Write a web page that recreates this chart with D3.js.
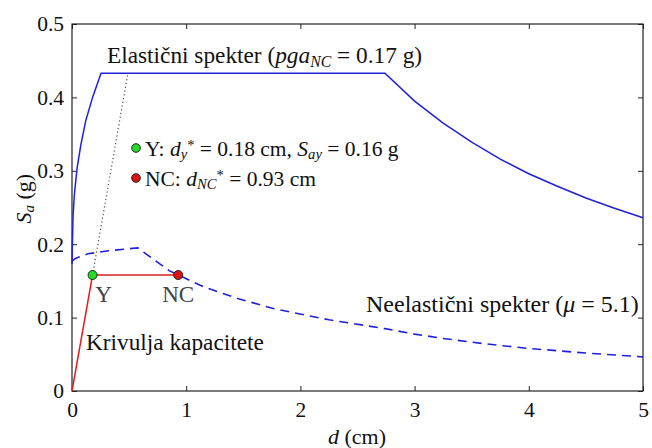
<!DOCTYPE html>
<html>
<head>
<meta charset="utf-8">
<script src="https://cdn.jsdelivr.net/npm/d3@7"></script>
</head>
<body style="margin:0">
<script>
const width = 652;
const height = 448;
const serif = "'Liberation Serif'";

// elastic spectrum (ADRS)
const elasticD = [0, 0.002, 0.009, 0.022, 0.044, 0.077, 0.12, 0.18, 0.254, 2.74, 3.0, 3.25, 3.5, 3.75, 4.0, 4.25, 4.5, 4.75, 5.0];
const elasticSa = [0.173, 0.19, 0.238, 0.27, 0.303, 0.335, 0.368, 0.40, 0.433, 0.433, 0.395, 0.365, 0.339, 0.316, 0.296, 0.279, 0.263, 0.249, 0.236];

// inelastic spectrum (mu = 5.1)
const inelasticD = [0, 0.034, 0.14, 0.32, 0.576, 0.85, 1.15, 1.45, 1.77, 2.25, 2.74, 3.0, 3.25, 3.5, 3.75, 4.0, 4.5, 5.0];
const inelasticSa = [0.177, 0.181, 0.187, 0.191, 0.195, 0.164, 0.142, 0.126, 0.112, 0.097, 0.085, 0.0775, 0.0716, 0.0665, 0.062, 0.058, 0.0517, 0.0465];

// capacity curve + initial stiffness extension
const capacityD = [0, 0.18, 0.93];
const capacitySa = [0, 0.158, 0.158];
const stiffD = [0.18, 0.49];
const stiffSa = [0.158, 0.433];

const pointNames = ["Y", "NC"];
const pointD = [0.18, 0.93];
const pointSa = [0.158, 0.158];
const pointColors = ["#22dd22", "#dd1111"];

const xTicks = [0, 1, 2, 3, 4, 5];
const yTicks = [0, 0.1, 0.2, 0.3, 0.4, 0.5];

const margin = {left: 72, right: 9, top: 24, bottom: 57};

const x = d3.scaleLinear().domain([0, 5]).range([margin.left, width - margin.right]);
const y = d3.scaleLinear().domain([0, 0.5]).range([height - margin.bottom, margin.top]);

const svg = d3.select("body").append("svg")
	.attr("width", width)
	.attr("height", height);

const zip = (a, b) => a.map((v, i) => [v, b[i]]);
const line = d3.line().x(d => x(d[0])).y(d => y(d[1]));

// box with inward ticks on all sides
svg.append("rect")
	.attr("x", x(0)).attr("y", y(0.5))
	.attr("width", x(5) - x(0)).attr("height", y(0) - y(0.5))
	.attr("fill", "none").attr("stroke", "#222").attr("stroke-width", 1.2);

const axB = svg.append("g").attr("transform", "translate(0," + y(0) + ")")
	.call(d3.axisBottom(x).tickValues(xTicks).tickSizeInner(-5).tickSizeOuter(0).tickPadding(11).tickFormat(d3.format("d")));
const axT = svg.append("g").attr("transform", "translate(0," + y(0.5) + ")")
	.call(d3.axisTop(x).tickValues(xTicks).tickSizeInner(-5).tickSizeOuter(0).tickFormat(""));
const axL = svg.append("g").attr("transform", "translate(" + x(0) + ",0)")
	.call(d3.axisLeft(y).tickValues(yTicks).tickSizeInner(-5).tickSizeOuter(0).tickPadding(8).tickFormat(d => d === 0 ? "0" : d3.format(".1f")(d)));
const axR = svg.append("g").attr("transform", "translate(" + x(5) + ",0)")
	.call(d3.axisRight(y).tickValues(yTicks).tickSizeInner(-5).tickSizeOuter(0).tickFormat(""));

[axB, axT, axL, axR].forEach(a => {
	a.attr("font-family", null).attr("font-size", null);
	a.select(".domain").remove();
	a.selectAll("line").attr("stroke", "#222");
	a.selectAll("text").attr("font-size", 21.5).attr("fill", "#111").attr("font-family", serif);
});

// curves
svg.append("path").datum(zip(elasticD, elasticSa))
	.attr("d", line).attr("fill", "none").attr("stroke", "#2020dd").attr("stroke-width", 1.5);

svg.append("path").datum(zip(inelasticD, inelasticSa))
	.attr("d", line).attr("fill", "none").attr("stroke", "#2020dd").attr("stroke-width", 1.6)
	.attr("stroke-dasharray", "9,6");

svg.append("path").datum(zip(stiffD, stiffSa))
	.attr("d", line).attr("fill", "none").attr("stroke", "#555").attr("stroke-width", 1.2)
	.attr("stroke-dasharray", "1.2,2.6");

svg.append("path").datum(zip(capacityD, capacitySa))
	.attr("d", line).attr("fill", "none").attr("stroke", "#dd1f1f").attr("stroke-width", 1.5);

svg.selectAll(".pt").data(pointNames).enter().append("circle")
	.attr("class", "pt")
	.attr("cx", (d, i) => x(pointD[i])).attr("cy", (d, i) => y(pointSa[i]))
	.attr("r", 4.5)
	.attr("fill", (d, i) => pointColors[i]).attr("stroke", "#222").attr("stroke-width", 1);

svg.selectAll(".ptlabel").data(pointNames).enter().append("text")
	.attr("class", "ptlabel")
	.attr("x", (d, i) => x(pointD[i]) + (i === 0 ? 11 : 0)).attr("y", y(pointSa[0]) + 27)
	.attr("text-anchor", "middle").attr("font-size", 23).attr("fill", "#444")
	.attr("font-family", serif)
	.text(d => d);

// annotations
function rich(parent, xPos, yPos, parts, size) {
	const t = parent.append("text").attr("x", xPos).attr("y", yPos)
		.attr("font-size", size).attr("fill", "#111").attr("font-family", serif);
	parts.forEach(p => {
		const s = t.append("tspan").text(p.t);
		if (p.i) s.attr("font-style", "italic");
		if (p.sub) s.attr("font-size", size * 0.68).attr("baseline-shift", "-22%");
		if (p.sup) s.attr("font-size", size * 0.68).attr("baseline-shift", "40%");
	});
	return t;
}

rich(svg, 107, 63, [
	{t: "Elastični spekter ("}, {t: "pga", i: true}, {t: "NC", i: true, sub: true}, {t: " = 0.17 g)"}
], 23.3);

rich(svg, 366, 312, [
	{t: "Neelastični spekter ("}, {t: "μ", i: true}, {t: " = 5.1)"}
], 24);

rich(svg, 86, 350, [{t: "Krivulja kapacitete"}], 23.3);

svg.append("circle").attr("cx", 136).attr("cy", 148).attr("r", 4.3)
	.attr("fill", pointColors[0]).attr("stroke", "#222");
svg.append("circle").attr("cx", 136).attr("cy", 178).attr("r", 4.3)
	.attr("fill", pointColors[1]).attr("stroke", "#222");

rich(svg, 145, 156, [
	{t: "Y: "}, {t: "d", i: true}, {t: "y", i: true, sub: true}, {t: "*", sup: true},
	{t: " = 0.18 cm, "}, {t: "S", i: true}, {t: "ay", i: true, sub: true}, {t: " = 0.16 g"}
], 21.5);

rich(svg, 145, 186, [
	{t: "NC: "}, {t: "d", i: true}, {t: "NC", i: true, sub: true}, {t: "*", sup: true},
	{t: " = 0.93 cm"}
], 21.5);

// axis titles
rich(svg, 357, 444, [{t: "d", i: true}, {t: " (cm)"}], 22).attr("text-anchor", "middle");

rich(svg, 0, 0, [{t: "S", i: true}, {t: "a", i: true, sub: true}, {t: " (g)"}], 22)
	.attr("text-anchor", "middle")
	.attr("transform", "translate(31," + y(0.262) + ") rotate(-90)");
</script>
</body>
</html>
